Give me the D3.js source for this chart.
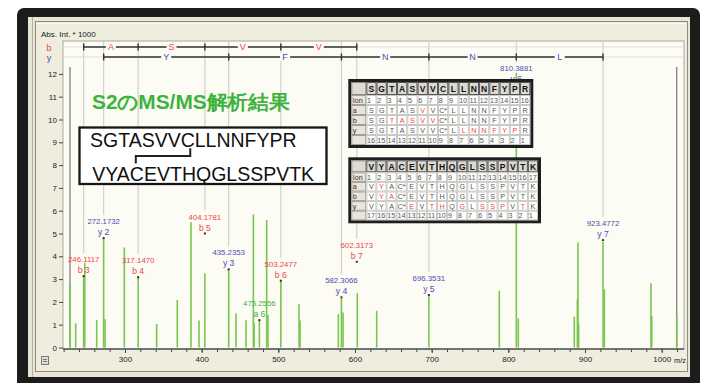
<!DOCTYPE html>
<html><head><meta charset="utf-8">
<script src="https://cdn.jsdelivr.net/npm/d3@7"></script>
<style>
html,body{margin:0;padding:0;background:#fff;}
svg{display:block;}
text{font-family:"Liberation Sans",Arial,sans-serif;}
</style></head><body>
<svg id="c" width="710" height="383"></svg>
<script>
// ---------------- data ----------------
const peakMz  = [228.3,235.7,246.11,247.5,263.1,272.17,274.0,299.1,317.15,341.3,368.2,386.1,396.5,404.18,435.24,444.8,457.8,467.4,468.4,475.26,484.8,486.5,503.25,527.0,528.3,578.3,582.31,584.4,603.0,628.3,696.35,788.2,810.39,813.0,886.0,890.0,890.8,891.7,923.48,925.2,986.0,987.0,1019.6];
const peakInt = [2.77,1.06,3.13,3.72,1.2,4.79,1.24,4.39,3.13,1.03,2.08,5.49,1.18,3.25,3.43,1.5,1.2,5.84,1.06,1.2,5.59,1.43,2.96,1.9,1.18,1.46,2.16,1.53,2.38,1.61,2.26,2.49,12.05,1.28,1.35,2.11,4.6,1.06,4.64,2.55,2.82,1.38,1.32];
const overMz  = [228.3, 1019.6];
const overInt = [12.3, 12.3];
const annMz    = [246.1117,272.1732,317.1470,404.1781,435.2353,475.2556,503.2477,582.3066,602.3173,696.3531,810.3881,923.4772];
const annIon   = ["b 3","y 2","b 4","b 5","y 3","a 6","b 6","y 4","b 7","y 5","y 6","y 7"];
const annLevel = [3.13,4.8,3.08,5.0,3.43,1.2,2.93,2.2,3.76,2.3,11.5,4.71];
const bLadderMz = [246.1117,317.1470,404.1781,503.2477,602.3173];
const bLadderAA = ["A","S","V","V"];
const yLadderMz = [272.1732,435.2353,582.3066,696.3531,810.3881,923.4772];
const yLadderAA = ["Y","F","N","N","L"];
const xTicks = [300,400,500,600,700,800,900,1000];
const xMinor = d3.range(220,1030,20);
const yTicks = [0,1,2,3,4,5,6,7,8,9,10,11,12];
const seq1 = "SGTASVVCLLNNFYPR";
const seq2 = "VYACEVTHQGLSSPVTK";
const t1Red = {a:[6], b:[3,4,5,6,7], y:[10,11,12,13,14,15]};
const t2Red = {a:[2], b:[2,3], y:[5,7,8,10,12,13,14,16]};
const titleText = "S2のMS/MS解析結果";

// ---------------- colours ----------------
const RED="#f04646", BLUE="#4c4cb4", GREENT="#45b045", PEAK="#78c64e";
const ionColor = t => t[0]==="b"?RED:(t[0]==="y"?BLUE:GREENT);

const svg = d3.select("#c");
// frame
svg.append("rect").attr("x",17).attr("y",8).attr("width",683).attr("height",395).attr("rx",7).attr("fill","#1c1c1c");
svg.append("rect").attr("x",28).attr("y",17).attr("width",662).attr("height",360).attr("fill","#e9e6d5");
svg.append("line").attr("x1",32.5).attr("x2",32.5).attr("y1",17).attr("y2",377).attr("stroke","#b4b09e");
svg.append("rect").attr("x",35.5).attr("y",21.5).attr("width",652).attr("height",350).attr("fill","#efedde").attr("stroke","#8e8b7e");
svg.append("line").attr("x1",36).attr("x2",687).attr("y1",23.5).attr("y2",23.5).attr("stroke","#fbfaf2");

const PL=63, PR=684, PT=41, PB=349;
const PBG="#fcfbf4";
svg.append("rect").attr("x",PL).attr("y",PT).attr("width",PR-PL).attr("height",PB-PT).attr("fill",PBG).attr("stroke","#a9a79c");

const x = d3.scaleLinear().domain([300,1000]).range([125,661.7]);
const y = d3.scaleLinear().domain([0,12]).range([347.5,73.9]);

// axis labels
svg.append("text").attr("x",41).attr("y",37).attr("font-size",8).attr("fill","#222").text("Abs. Int. * 1000");
svg.append("text").attr("x",49).attr("y",50.5).attr("font-size",9).attr("text-anchor","middle").attr("fill",RED).text("b");
svg.append("text").attr("x",49).attr("y",60.5).attr("font-size",9).attr("text-anchor","middle").attr("fill",BLUE).text("y");

// y axis
const gy = svg.append("g").attr("transform",`translate(${PL},0)`)
  .call(d3.axisLeft(y).tickValues(yTicks).tickSize(4).tickPadding(2).tickFormat(d3.format("d")));
gy.select(".domain").remove();
gy.selectAll("line").attr("stroke","#444");
gy.selectAll("text").attr("font-size",8).attr("fill","#222").attr("font-family","Liberation Sans, Arial, sans-serif");

// x axis
const gxm = svg.append("g").attr("transform",`translate(0,${PB})`)
  .call(d3.axisBottom(x).tickValues(xMinor).tickSize(3).tickFormat(""));
gxm.select(".domain").remove(); gxm.selectAll("line").attr("stroke","#444");
const gx = svg.append("g").attr("transform",`translate(0,${PB})`)
  .call(d3.axisBottom(x).tickValues(xTicks).tickSize(4).tickPadding(3).tickFormat(d3.format("d")));
gx.select(".domain").remove(); gx.selectAll("line").attr("stroke","#444");
gx.selectAll("text").attr("font-size",8).attr("fill","#222").attr("font-family","Liberation Sans, Arial, sans-serif");
svg.append("line").attr("x1",PL).attr("x2",PR).attr("y1",PB).attr("y2",PB).attr("stroke","#555").attr("stroke-width",1.5);
svg.append("text").attr("x",674).attr("y",363).attr("font-size",7.5).attr("fill","#222").text("m/z");
// small icon
svg.append("rect").attr("x",41.5).attr("y",356.5).attr("width",7).attr("height",8).attr("fill","#e2e0d4").attr("stroke","#777");
svg.append("path").attr("d","M43,359.5H47M43,361.5H47").attr("stroke","#555").attr("stroke-width",0.8);

// faint ladder rows
[47,57].forEach(yy=>svg.append("line").attr("x1",PL).attr("x2",PR).attr("y1",yy).attr("y2",yy).attr("stroke","#e2e1d8"));

// gray guide lines from top to labels
const annIndex = m => annMz.findIndex(v=>Math.abs(v-m)<0.01);
bLadderMz.concat(yLadderMz).forEach(m=>{
  const i = annIndex(m);
  const yb = y(annLevel[i]) - 14 - 9;
  svg.append("line").attr("x1",x(m)).attr("x2",x(m)).attr("y1",PT).attr("y2",yb).attr("stroke","#d2d2cc").attr("stroke-width",1.2);
});

// ladders
function ladder(mzs, aas, yy, color){
  const g = svg.append("g");
  g.append("line").attr("x1",x(mzs[0])).attr("x2",x(mzs[mzs.length-1])).attr("y1",yy).attr("y2",yy).attr("stroke","#333").attr("stroke-width",1.6);
  g.selectAll(".tk").data(mzs).enter().append("line")
    .attr("x1",d=>x(d)).attr("x2",d=>x(d)).attr("y1",yy-3.5).attr("y2",yy+3.5).attr("stroke","#333").attr("stroke-width",1.4);
  aas.forEach((a,i)=>{
    const cx=(x(mzs[i])+x(mzs[i+1]))/2;
    g.append("rect").attr("x",cx-5).attr("y",yy-4).attr("width",10).attr("height",8).attr("fill",PBG);
    g.append("text").attr("x",cx).attr("y",yy+3.3).attr("text-anchor","middle").attr("font-size",9).attr("fill",color).text(a);
  });
}
ladder(bLadderMz,bLadderAA,47,RED);
ladder(yLadderMz,yLadderAA,57,BLUE);

// off-scale gray lines
svg.selectAll(".over").data(overMz).enter().append("line")
  .attr("x1",d=>x(d)).attr("x2",d=>x(d)).attr("y1",(d,i)=>y(overInt[i])).attr("y2",y(0))
  .attr("stroke","#8a8a86").attr("stroke-width",1.4);

// peaks
svg.selectAll(".pk").data(peakMz).enter().append("line")
  .attr("x1",d=>x(d)).attr("x2",d=>x(d)).attr("y1",(d,i)=>y(peakInt[i])).attr("y2",y(0))
  .attr("stroke",PEAK).attr("stroke-width",1.6);

// annotations
annMz.forEach((m,i)=>{
  const cx=x(m), my=y(annLevel[i]), c=ionColor(annIon[i]);
  svg.append("rect").attr("x",cx-1).attr("y",my-1).attr("width",2).attr("height",2).attr("fill","#333");
  svg.append("text").attr("x",cx).attr("y",my-14).attr("text-anchor","middle").attr("font-size",7.8).attr("fill",c).text(m.toFixed(4));
  svg.append("text").attr("x",cx).attr("y",my-3).attr("text-anchor","middle").attr("font-size",8.6).attr("fill",c).text(annIon[i]);
});

// title
svg.append("text").attr("x",92).attr("y",109).attr("font-family","'Noto Sans CJK JP','Noto Sans',sans-serif")
  .attr("font-weight",700).attr("font-size",20).attr("fill","#3cb43c")
  .attr("textLength",198).attr("lengthAdjust","spacingAndGlyphs").text(titleText);

// sequence box
svg.append("rect").attr("x",79.5).attr("y",127.5).attr("width",247).attr("height",56.5).attr("fill","#fff").attr("stroke","#151515").attr("stroke-width",2.3);
const s1 = svg.append("text").attr("x",90).attr("y",146.7).attr("font-size",19.5).attr("fill","#111").text(seq1);
const s2 = svg.append("text").attr("x",92.3).attr("y",181).attr("font-size",19.5).attr("fill","#111").text(seq2);
const c1i = seq1.indexOf("C"), c2i = seq2.indexOf("C");
const c1x = 90 + s1.node().getSubStringLength(0,c1i), c1w = s1.node().getSubStringLength(c1i,1);
const c2x = 92.3 + s2.node().getSubStringLength(0,c2i), c2w = s2.node().getSubStringLength(c2i,1);
const bx1 = c1x + 0.68*c1w, bx2 = c2x + 0.42*c2w;
svg.append("path").attr("d",`M${bx1},148.3V156H${bx2}V163.5`).attr("fill","none").attr("stroke","#222").attr("stroke-width",2);

// tables
function drawTable(seq, red, x0, y0, colW, labW, headH, rowH){
  const n = seq.length, B=3;
  const w = B*2 + labW + n*colW, h = B*2 + headH + 5*rowH;
  const g = svg.append("g");
  g.append("rect").attr("x",x0).attr("y",y0).attr("width",w).attr("height",h).attr("fill","#1e1e1e");
  const ix = x0+B, iy = y0+B;
  g.append("rect").attr("x",ix).attr("y",iy).attr("width",w-2*B).attr("height",h-2*B).attr("fill","#fff");
  // header
  g.append("rect").attr("x",ix+0.5).attr("y",iy+0.5).attr("width",labW-1).attr("height",headH-1).attr("fill","#dedcd2").attr("stroke","#8a8a84");
  seq.split("").forEach((r,j)=>{
    const cx = ix+labW+j*colW;
    g.append("rect").attr("x",cx+0.5).attr("y",iy+0.5).attr("width",colW-1).attr("height",headH-1).attr("fill","#dcdad0").attr("stroke","#555");
    g.append("text").attr("x",cx+colW/2).attr("y",iy+headH/2+3.2).attr("text-anchor","middle").attr("font-size",8.5).attr("font-weight",700).attr("fill","#111").text(r);
  });
  const rows = ["Ion","a","b","y",""];
  rows.forEach((lab,k)=>{
    const ry = iy+headH+k*rowH;
    g.append("rect").attr("x",ix+0.5).attr("y",ry+0.5).attr("width",labW-1).attr("height",rowH-1).attr("fill","#e8e6dc").attr("stroke","#a0a09a");
    g.append("text").attr("x",ix+1.5).attr("y",ry+rowH/2+2.7).attr("font-size",7.2).attr("fill","#333").text(lab);
    seq.split("").forEach((r,j)=>{
      const cx = ix+labW+j*colW;
      g.append("rect").attr("x",cx+0.5).attr("y",ry+0.5).attr("width",colW-1).attr("height",rowH-1).attr("fill","#fff").attr("stroke","#c8c8c4");
      let t, col="#555";
      if(k===0) t = String(j+1);
      else if(k===4) t = String(n-j);
      else { t = r==="C" ? "C*" : r; if((red[lab]||[]).includes(j+1)) col=RED; }
      g.append("text").attr("x",cx+(k===0||k===4?0.8:colW/2)).attr("y",ry+rowH/2+2.7)
        .attr("text-anchor",(k===0||k===4)?"start":"middle").attr("font-size",7.2).attr("fill",col).text(t);
    });
  });
}
drawTable(seq1, t1Red, 348.3, 79, 10.25, 15, 13, 10);
drawTable(seq2, t2Red, 348.3, 157.3, 10.1, 15, 12, 9.6);
</script>
</body></html>
